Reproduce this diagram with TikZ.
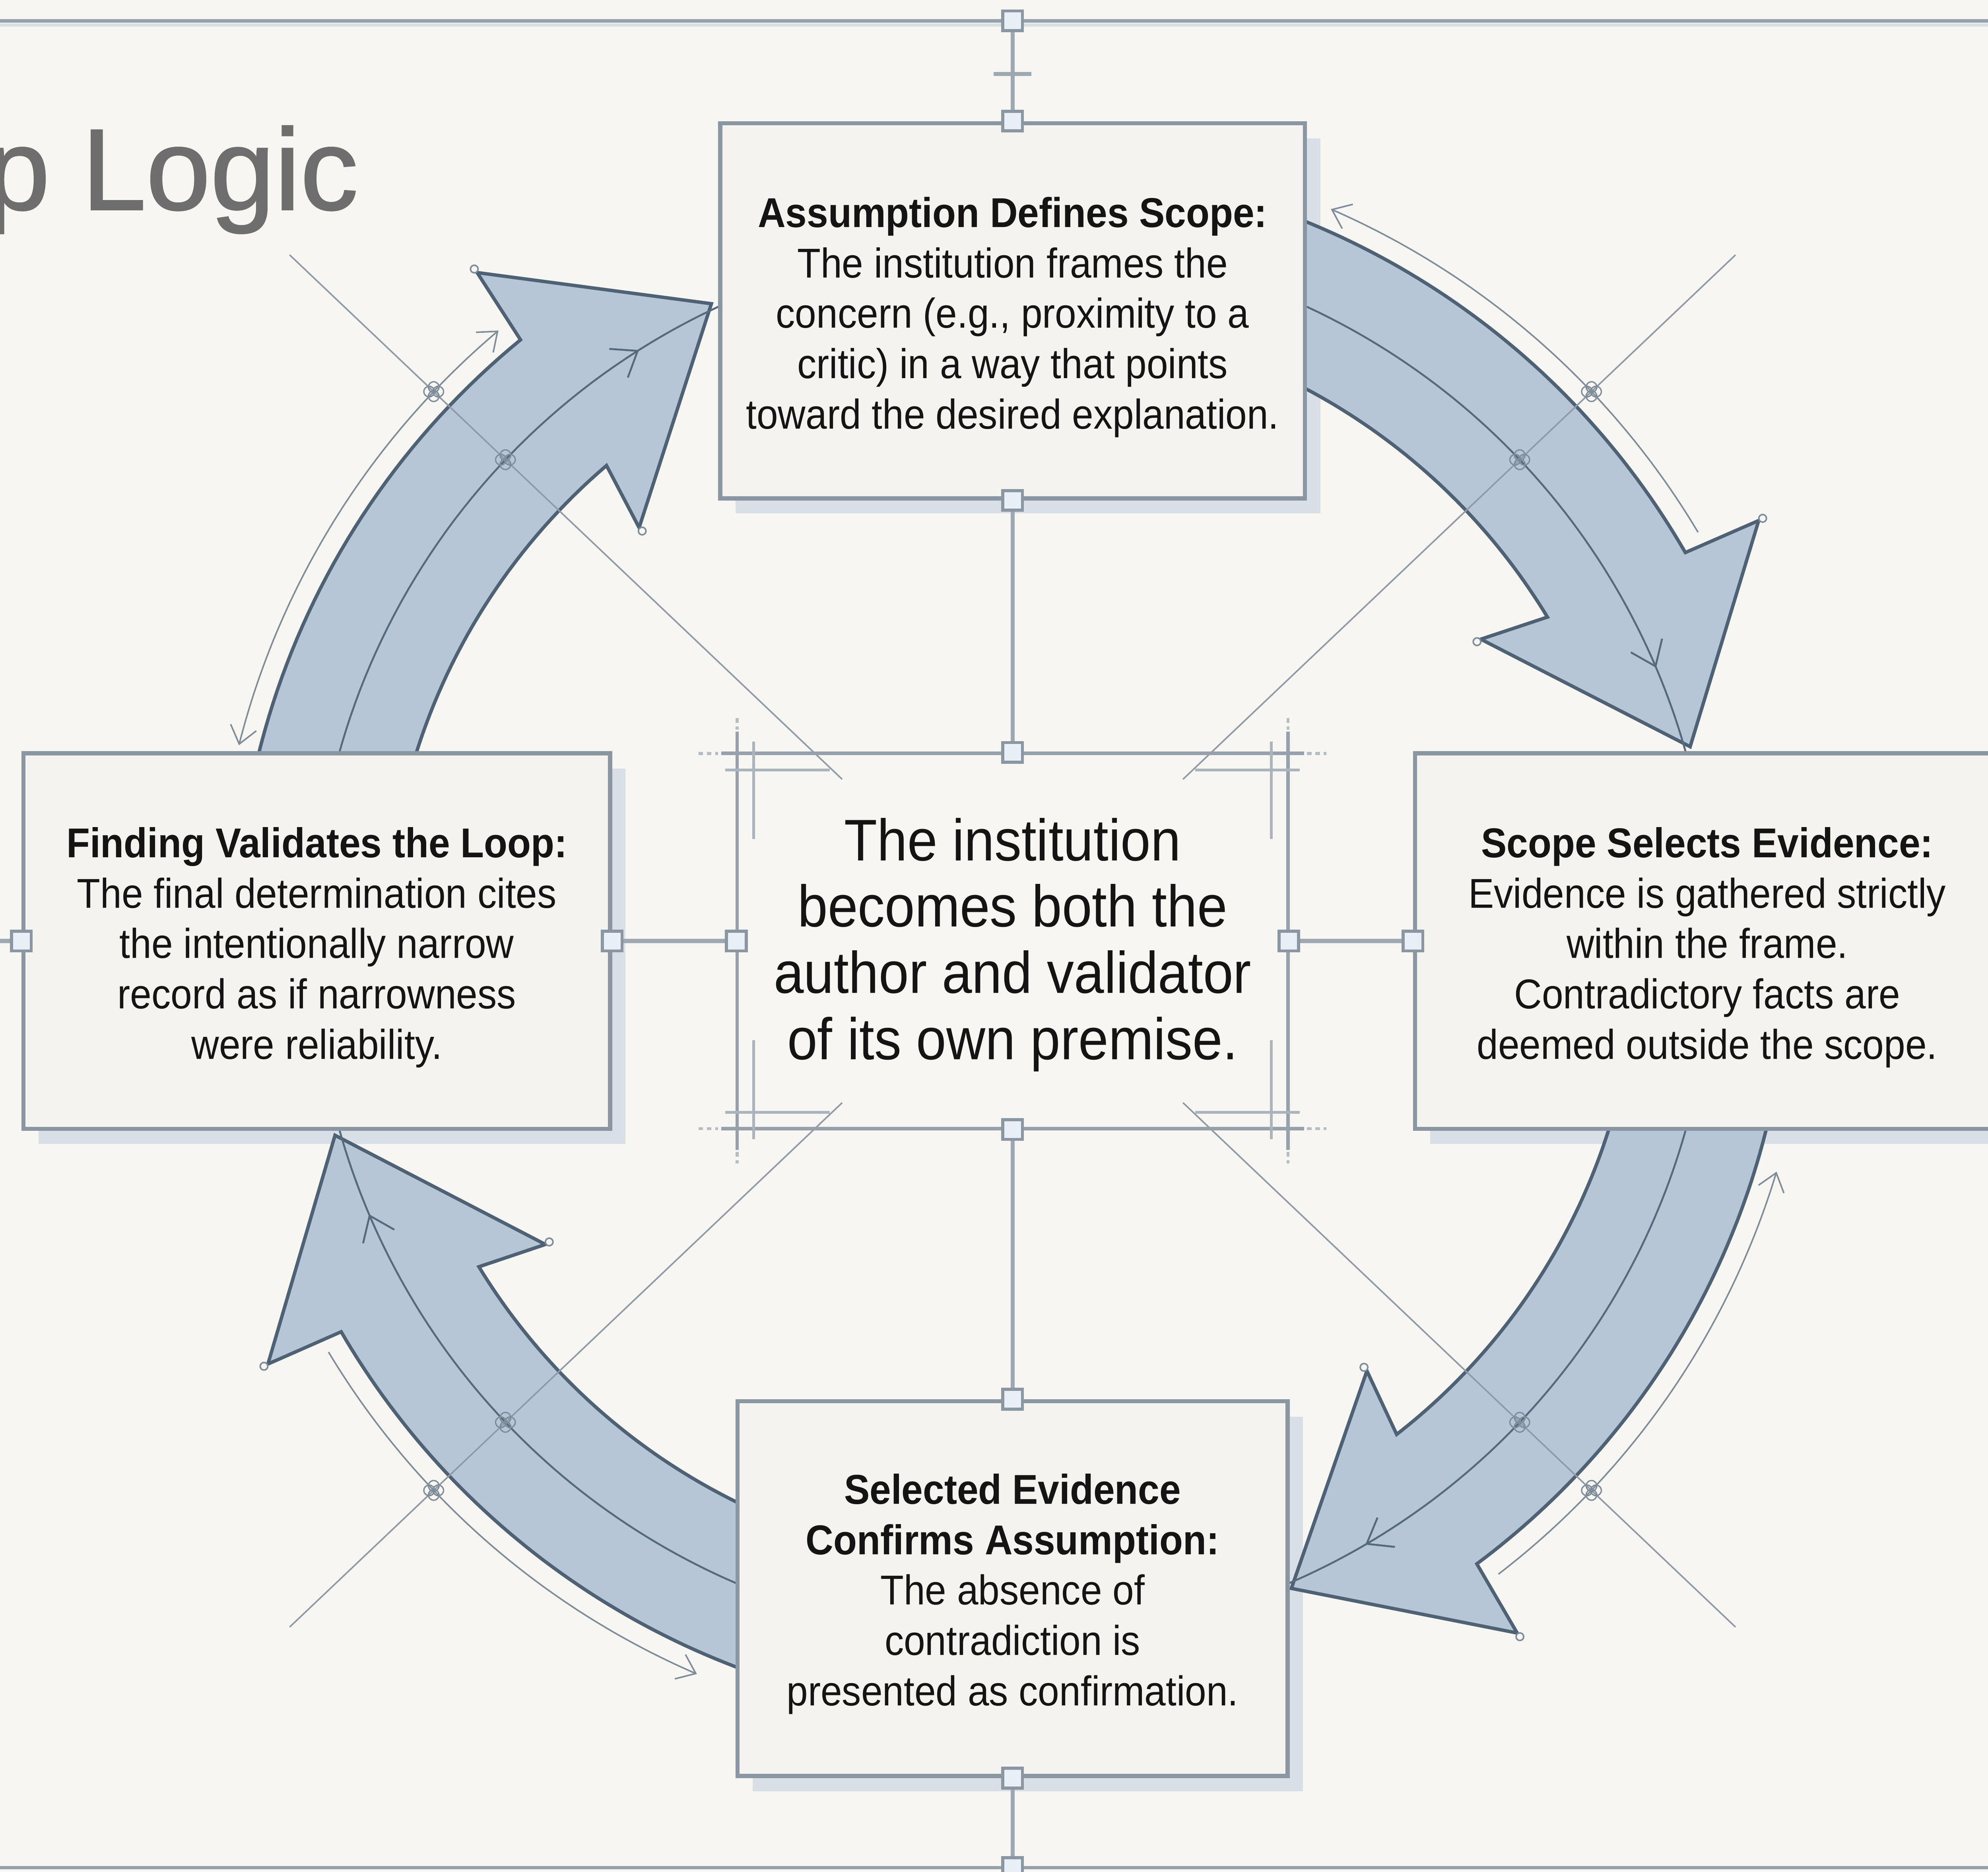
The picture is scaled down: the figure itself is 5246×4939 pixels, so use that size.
\documentclass[tikz,border=0pt]{standalone}
\usepackage{fontspec}
\setmainfont{Liberation Sans}
\newfontfamily\boxfont{Liberation Sans}[FakeStretch=0.92]
\newfontfamily\titlefont{Liberation Sans}[FakeBold=1.2]
\usetikzlibrary{arrows.meta}
\definecolor{bgc}{HTML}{F7F6F2}
\definecolor{boxfill}{HTML}{F4F3EF}
\definecolor{boxline}{HTML}{8A96A2}
\definecolor{shadowc}{HTML}{D9DFE6}
\definecolor{bandfill}{HTML}{B7C6D7}
\definecolor{bandline}{HTML}{4E6175}
\definecolor{midc}{HTML}{566A7E}
\definecolor{thinc}{HTML}{7F8C99}
\definecolor{diagc}{HTML}{8F9AA6}
\definecolor{framec}{HTML}{96A1AC}
\definecolor{connc}{HTML}{9EA8B2}
\definecolor{sqfill}{HTML}{E9EFF6}
\definecolor{sqline}{HTML}{8A96A2}
\definecolor{titlec}{HTML}{6E6E6E}
\definecolor{textc}{HTML}{141414}

\tikzset{
  box/.style={draw=boxline, line width=1.1pt, fill=boxfill, inner sep=0pt},
  boxtext/.style={align=center, text=textc, inner sep=0pt,
    font=\boxfont\fontsize{11}{13.3}\selectfont},
  ctrtext/.style={align=center, text=textc, inner sep=0pt,
    font=\boxfont\fontsize{15.5}{17.5}\selectfont},
  sq/.style={draw=sqline, fill=sqfill, line width=0.8pt, minimum size=5.2pt, inner sep=0pt},
  conn/.style={draw=connc, line width=1.1pt},
  band/.style={fill=bandfill, draw=bandline, line width=0.9pt, line join=miter},
  midl/.style={draw=midc, line width=0.5pt},
  midarrow/.style={>={Straight Barb[length=6pt,width=9pt]}, ->},
  thinl/.style={draw=thinc, line width=0.4pt},
  thinback/.style={>={Straight Barb[length=4.5pt,width=7pt]}, <-},
  thinboth/.style={>={Straight Barb[length=4.5pt,width=7pt]}, <->},
  diag/.style={draw=diagc, line width=0.4pt},
  framel/.style={draw=framec, line width=0.9pt},
  framesh/.style={draw=shadowc, line width=0.8pt},
  cframe/.style={draw=framec, line width=0.9pt},
  cframe2/.style={draw=framec!80, line width=0.7pt},
  fdot/.style={draw=framec!70, line width=0.8pt, dash pattern=on 1.2pt off 1pt},
}

% #1 tail angle, #2 base angle, #3 tip angle (screen angles, clockwise)
\newcommand{\loopband}[3]{%
  \filldraw[band] plot[domain=#1:#2, samples=60] (\x:2050) -- (#2+0.6:2260) -- (#3:1860)
    -- (#2-2.8:1470) -- (#2-1.2:1650) -- plot[domain=#2-1.2:#1, samples=60] (\x:1650) -- cycle;
  \draw[midl, midarrow] plot[domain=#1:#3-7, samples=60] (\x:1845);
  \draw[midl] plot[domain=#3-7.2:#3+2.5, samples=15] (\x:1845);
  \draw[thinl, fill=bgc] (#2+0.6:2272) circle[radius=10];
  \draw[thinl, fill=bgc] (#2-2.8:1458) circle[radius=10];
}
\newcommand{\loopthin}[2]{%
  \draw[thinl, #2] plot[domain=#1-36.5:#1-0.8, samples=60] (\x:2106);
}
\newcommand{\qfoil}[2]{%
  \foreach \d in {0,90,180,270}{\draw[thinl, line width=0.35pt] (#1:#2) ++(\d:12) circle[radius=14];}
}

\begin{document}
\begin{tikzpicture}[x=0.1pt, y=-0.1pt]
\useasboundingbox (0,0) rectangle (5246,4939);
\fill[bgc] (0,0) rectangle (5246,4939);

% title (cut off at the left edge, as in the reference)
\node[anchor=base west, inner sep=0pt, text=titlec, font=\titlefont\fontsize{30.5}{36}\selectfont] (title) at (-40,553) {p Logic};

% outer frame lines
\draw[framesh] (0,66) -- (5246,66);
\draw[framel] (0,55) -- (5246,55);
\draw[framel] (0,4928) -- (5246,4928);

% shadows
\fill[shadowc] (1941,365) rectangle (3484,1355);
\fill[shadowc] (3774,2028) rectangle (5316,3019);
\fill[shadowc] (102,2028) rectangle (1650,3019);
\fill[shadowc] (1986,3738) rectangle (3438,4727);

% loop arrows
\begin{scope}[shift={(2672,2483)}]
  \loopband{-78}{-30}{-16}
  \loopband{10}{53.3}{66.7}
  \loopband{102}{149.8}{164}
  \loopband{170}{230.7}{244.7}
  \loopthin{-30}{thinback}
  \loopthin{53.3}{thinback}
  \loopthin{149.8}{thinback}
  \loopthin{230.7}{thinboth}
  \foreach \a in {43.5,136.5,-43.5,-136.5}{
    \draw[diag] (\a:620) -- (\a:2630);
    \qfoil{\a}{1845}
    \qfoil{\a}{2106}
  }
\end{scope}

% boxes
\node[box, minimum width=154.3pt, minimum height=99pt] (top) at (2672,820) {};
\node[boxtext, yshift=-1.7pt] (topt) at (top.center)
  {\textbf{Assumption Defines Scope:}\\The institution frames the\\concern (e.g., proximity to a\\critic) in a way that points\\toward the desired explanation.};
\node[box, minimum width=154.2pt, minimum height=99.1pt] (right) at (4505,2483) {};
\node[boxtext, yshift=-1.7pt] (rightt) at (right.center)
  {\textbf{Scope Selects Evidence:}\\Evidence is gathered strictly\\within the frame.\\Contradictory facts are\\deemed outside the scope.};
\node[box, minimum width=154.8pt, minimum height=99.1pt] (left) at (836,2483) {};
\node[boxtext, yshift=-1.7pt] (leftt) at (left.center)
  {\textbf{Finding Validates the Loop:}\\The final determination cites\\the intentionally narrow\\record as if narrowness\\were reliability.};
\node[box, minimum width=145.2pt, minimum height=98.9pt] (bot) at (2672,4192) {};
\node[boxtext, yshift=-1.4pt] (bott) at (bot.center)
  {\textbf{Selected Evidence}\\\textbf{Confirms Assumption:}\\The absence of\\contradiction is\\presented as confirmation.};
\node[minimum width=145.4pt, minimum height=99.1pt, inner sep=0pt] (ctr) at (2672,2483) {};
\node[ctrtext, yshift=-1.0pt] (ctrt) at (ctr.center)
  {The institution\\becomes both the\\author and validator\\of its own premise.};

% centre frame
\draw[cframe] (1903,1988) -- (3441,1988);
\draw[cframe] (1903,2978) -- (3441,2978);
\draw[cframe] (1945,1931) -- (1945,3034);
\draw[cframe] (3399,1931) -- (3399,3034);
\draw[fdot] (1843,1988) -- (1895,1988);
\draw[fdot] (3449,1988) -- (3500,1988);
\draw[fdot] (1843,2978) -- (1895,2978);
\draw[fdot] (3449,2978) -- (3500,2978);
\draw[fdot] (1945,1895) -- (1945,1925);
\draw[fdot] (3399,1895) -- (3399,1925);
\draw[fdot] (1945,3040) -- (1945,3070);
\draw[fdot] (3399,3040) -- (3399,3070);
\draw[cframe2] (1914,2032) -- (2190,2032);
\draw[cframe2] (3154,2032) -- (3430,2032);
\draw[cframe2] (1914,2935) -- (2190,2935);
\draw[cframe2] (3154,2935) -- (3430,2935);
\draw[cframe2] (1989,1957) -- (1989,2214);
\draw[cframe2] (3355,1957) -- (3355,2214);
\draw[cframe2] (1989,2745) -- (1989,3006);
\draw[cframe2] (3355,2745) -- (3355,3006);

% connectors
\node[sq] (sTopFrame) at (2672,55) {};
\node[sq] (sBotFrame) at (2672,4928) {};
\coordinate (lend) at (0,2483);
\coordinate (tickL) at (2622,195);
\coordinate (tickR) at (2722,195);
\draw[conn] (sTopFrame) -- (top.north);
\draw[conn] (tickL) -- (tickR);
\draw[conn] (top.south) -- (ctr.north);
\draw[conn] (ctr.south) -- (bot.north);
\draw[conn] (bot.south) -- (sBotFrame);
\draw[conn] (left.east) -- (ctr.west);
\draw[conn] (ctr.east) -- (right.west);
\draw[conn] (lend) -- (left.west);
\node[sq] (s1) at (top.north) {};
\node[sq] (s2) at (top.south) {};
\node[sq] (s3) at (ctr.north) {};
\node[sq] (s4) at (ctr.south) {};
\node[sq] (s5) at (ctr.west) {};
\node[sq] (s6) at (ctr.east) {};
\node[sq] (s7) at (left.east) {};
\node[sq] (s8) at (left.west) {};
\node[sq] (s9) at (right.west) {};
\node[sq] (s10) at (bot.north) {};
\node[sq] (s11) at (bot.south) {};
\end{tikzpicture}
\end{document}
